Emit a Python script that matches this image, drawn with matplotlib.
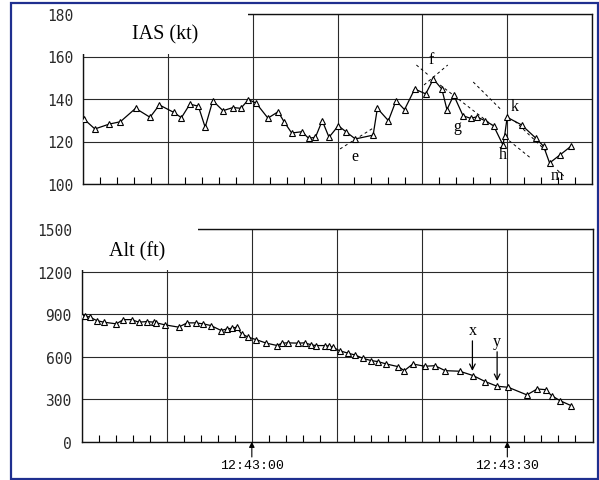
import matplotlib
matplotlib.use("Agg")
import matplotlib.pyplot as plt
from matplotlib.patches import Rectangle
from matplotlib.ticker import MultipleLocator

# ---- data (time in seconds from 12:42:40) ----
ias_t = [0.1, 1.4, 3.1, 4.4, 6.2, 7.9, 9.0, 10.7, 11.6, 12.6, 13.6, 14.4, 15.3, 16.5,
         17.7, 18.6, 19.5, 20.4, 21.8, 23.0, 23.7, 24.6, 25.8, 26.6, 27.4, 28.2, 29.0,
         30.1, 31.0, 32.1, 34.2, 34.7, 36.0, 36.9, 37.9, 39.1, 40.4, 41.3, 42.3, 42.9,
         43.7, 44.8, 45.7, 46.4, 47.4, 48.4, 49.5, 49.7, 50.0, 51.7, 53.4, 54.3, 55.0,
         56.2, 57.5]
ias_v = [130.6, 125.9, 128.2, 129.3, 135.6, 131.4, 137.2, 133.7, 131.2, 137.6, 136.6,
         126.7, 139.2, 134.5, 136.0, 135.6, 139.7, 138.1, 131.0, 134.0, 129.3, 124.0,
         124.6, 121.5, 122.0, 129.8, 122.0, 127.4, 124.6, 121.2, 123.0, 135.6, 129.8,
         139.2, 135.0, 144.7, 142.4, 149.4, 144.7, 135.0, 141.8, 132.1, 130.9, 131.6,
         129.8, 127.4, 118.4, 122.7, 131.4, 127.8, 121.5, 117.7, 109.9, 113.6, 117.7]

alt_t = [0.0, 0.4, 1.0, 1.8, 2.6, 4.1, 4.9, 5.9, 6.7, 7.7, 8.5, 8.8, 9.8, 11.4, 12.4,
         13.4, 14.3, 15.2, 16.4, 17.1, 17.7, 18.2, 18.8, 19.6, 20.5, 21.7, 23.0, 23.5,
         24.3, 25.4, 26.2, 27.0, 27.5, 28.6, 29.1, 29.5, 30.3, 31.3, 32.1, 33.0, 34.0,
         34.8, 35.8, 37.2, 37.9, 38.9, 40.3, 41.5, 42.7, 44.4, 46.0, 47.4, 48.8, 50.1,
         52.3, 53.5, 54.5, 55.2, 56.2, 57.5]
alt_v = [889, 889, 878, 854, 843, 831, 861, 861, 843, 847, 843, 838, 824, 808, 838,
         838, 831, 819, 784, 796, 800, 808, 760, 737, 720, 695, 678, 695, 697, 695,
         697, 683, 678, 678, 673, 666, 642, 624, 612, 589, 572, 565, 548, 529, 501,
         548, 532, 536, 501, 497, 466, 424, 391, 384, 330, 372, 367, 325, 289, 254]

# dashed trend lines drawn on the IAS panel: ((t0, v0), (t1, v1))
ias_trends = [((30.3, 116.5), (34.4, 126.8)),
              ((39.3, 156.0), (40.7, 151.3)),
              ((40.2, 146.6), (43.0, 156.0)),
              ((42.1, 146.6), (48.2, 127.8)),
              ((46.0, 148.0), (49.2, 135.3)),
              ((49.7, 122.1), (52.9, 111.8)),
              ((50.9, 129.6), (54.6, 115.5)),
              ((55.9, 106.6), (56.8, 103.3))]
ias_letters = ["e", "f", "g", "h", "k", "m"]
ias_letter_pos = [(32.1, 113.2), (41.1, 158.8), (44.1, 127.3), (49.5, 114.1),
                  (50.9, 136.7), (55.9, 104.2)]

alt_arrows = ["x", "y"]
alt_arrow_t = [45.9, 48.8]
alt_arrow_top = [711, 634]
alt_arrow_tip = [499, 428]

ias_yticks = [100, 120, 140, 160, 180]
alt_yticks = [0, 300, 600, 900, 1200, 1500]
time_ticks = [20, 50]
time_labels = ["12:43:00", "12:43:30"]

# ---- figure ----
fig = plt.figure(figsize=(5.99, 4.81), dpi=100)
fig.patch.set_facecolor("white")

ax1 = fig.add_axes([83/599, 1-185/481, 509/599, 170/481])
ax2 = fig.add_axes([81.5/599, 1-442.7/481, 511/599, 212.7/481])

grid_kw = dict(color="#2a2a2a", lw=0.8)
tick_font = dict(family="DejaVu Sans Mono", size=10.5)

for ax, ylim, yt in [(ax1, (100, 180), ias_yticks), (ax2, (0, 1500), alt_yticks)]:
    ax.set_xlim(0, 60)
    ax.set_ylim(*ylim)
    ax.set_yticks(yt)
    ax.set_yticklabels([str(v) for v in yt], **tick_font)
    ax.xaxis.set_major_locator(MultipleLocator(10))
    ax.xaxis.set_minor_locator(MultipleLocator(2))
    ax.grid(True, which="major", **grid_kw)
    ax.set_axisbelow(True)
    ax.tick_params(axis="y", length=0, pad=7, colors="#2a2a2a")
    ax.tick_params(axis="x", which="minor", direction="in", length=5, width=0.8)
    ax.tick_params(axis="x", which="major", length=0)
    ax.set_xticklabels([])
    for s in ax.spines.values():
        s.set_linewidth(1.0)
        s.set_color("#111111")

# time labels with small up-arrows
for t, lab in zip(time_ticks, time_labels):
    ax2.annotate("", xy=(t, 0), xycoords=("data", "axes fraction"),
                 xytext=(0, -11), textcoords="offset points",
                 arrowprops=dict(arrowstyle="-|>", color="black", lw=0.8,
                                 mutation_scale=8, shrinkA=0, shrinkB=0))
    ax2.annotate(lab, xy=(t, 0), xycoords=("data", "axes fraction"),
                 xytext=(0, -12.5), textcoords="offset points", ha="center", va="top",
                 family="Liberation Mono", fontsize=9.5)

# data
ax1.plot(ias_t, ias_v, color="black", lw=0.9, marker="^", ms=5,
         mfc="white", mec="black", mew=0.8, zorder=3)
ax2.plot(alt_t, alt_v, color="black", lw=0.9, marker="^", ms=5,
         mfc="white", mec="black", mew=0.8, zorder=3)

for (a, b) in ias_trends:
    ax1.plot([a[0], b[0]], [a[1], b[1]], color="black", lw=0.7,
             ls=(0, (3, 3)), zorder=2)
for lab, (t, v) in zip(ias_letters, ias_letter_pos):
    ax1.text(t, v, lab, family="Liberation Serif", fontsize=11.5,
             ha="center", va="center", zorder=4)

for lab, t, top, tip in zip(alt_arrows, alt_arrow_t, alt_arrow_top, alt_arrow_tip):
    ax2.annotate("", xy=(t, tip), xytext=(t, top),
                 arrowprops=dict(arrowstyle="->", color="black", lw=0.9,
                                 mutation_scale=10, shrinkA=0, shrinkB=0))
    ax2.text(t, top + 20, lab, family="Liberation Serif", fontsize=11.5,
             ha="center", va="bottom")

# white title boxes covering the upper-left corner of each panel
ax1.add_patch(Rectangle((-0.01, 0.765), 0.335, 0.25, transform=ax1.transAxes,
                        facecolor="white", edgecolor="none", zorder=5, clip_on=False))
ax1.text(0.161, 0.882, "IAS (kt)", transform=ax1.transAxes, family="Liberation Serif",
         fontsize=14.5, ha="center", va="center", zorder=6)
ax2.add_patch(Rectangle((-0.01, 0.807), 0.238, 0.21, transform=ax2.transAxes,
                        facecolor="white", edgecolor="none", zorder=5, clip_on=False))
ax2.text(0.109, 0.897, "Alt (ft)", transform=ax2.transAxes, family="Liberation Serif",
         fontsize=14.5, ha="center", va="center", zorder=6)

# outer blue border
fig.add_artist(Rectangle((10.5/599, 1-480/481), 587/599, 476/481,
                         transform=fig.transFigure, fill=False,
                         edgecolor="#1f2f8f", lw=1.6))

fig.savefig("out.png", dpi=100)
